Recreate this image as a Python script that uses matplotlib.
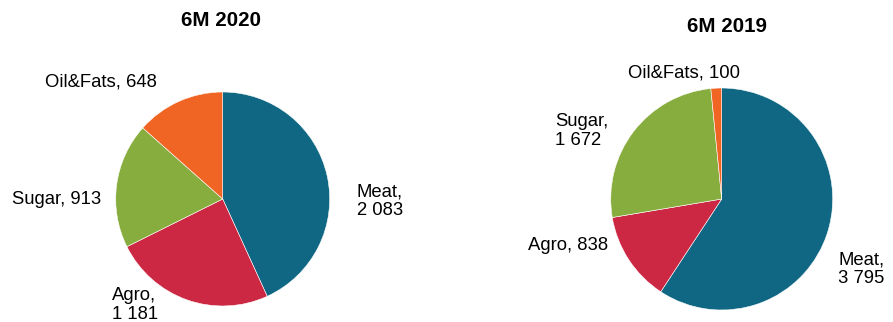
import matplotlib
matplotlib.use("Agg")
import matplotlib.pyplot as plt

plt.rcParams["font.family"] = ["Liberation Sans", "DejaVu Sans"]

segments = ["Meat", "Agro", "Sugar", "Oil&Fats"]
values_2020 = [2083, 1181, 913, 648]
values_2019 = [3795, 838, 1672, 100]
colors = ["#106784", "#cc2843", "#88ad3f", "#f06424"]

W, H = 893, 322
fig = plt.figure(figsize=(W / 100, H / 100), dpi=100)


def fmt(v):
    return f"{v:,}".replace(",", " ")


def pie_axes(cx, cy, r):
    # place an axes box of 2r x 2r pixels centred on (cx, cy), y measured from top
    return fig.add_axes([(cx - r) / W, 1 - (cy + r) / H, 2 * r / W, 2 * r / H])


def label(x, y, s, ha="left", weight="normal", size=13.3):
    fig.text(x / W, 1 - y / H, s, ha=ha, va="center", fontsize=size,
             fontweight=weight, linespacing=1.12)


for vals, (cx, cy, r) in [(values_2020, (222.7, 199, 107)),
                          (values_2019, (721.7, 199, 111))]:
    ax = pie_axes(cx, cy, r)
    ax.pie(vals, colors=colors, startangle=90, counterclock=False,
           radius=1, wedgeprops=dict(linewidth=0.4, edgecolor="white"))
    ax.set_xlim(-1, 1)
    ax.set_ylim(-1, 1)
    ax.set_aspect("equal")
    ax.axis("off")

label(221, 20, "6M 2020", ha="center", weight="bold", size=14.8)
label(727, 26, "6M 2019", ha="center", weight="bold", size=14.8)

m20 = dict(zip(segments, values_2020))
m19 = dict(zip(segments, values_2019))

label(101, 82, f"Oil&Fats, {fmt(m20['Oil&Fats'])}", ha="center")
label(57, 199, f"Sugar, {fmt(m20['Sugar'])}", ha="center")
label(112, 305, f"Agro,\n{fmt(m20['Agro'])}")
label(357, 201, f"Meat,\n{fmt(m20['Meat'])}")

label(684, 73, f"Oil&Fats, {fmt(m19['Oil&Fats'])}", ha="center")
label(555, 131, f"Sugar,\n{fmt(m19['Sugar'])}")
label(568, 246, f"Agro, {fmt(m19['Agro'])}", ha="center")
label(838, 269, f"Meat,\n{fmt(m19['Meat'])}")

fig.savefig("out.png", dpi=100)
